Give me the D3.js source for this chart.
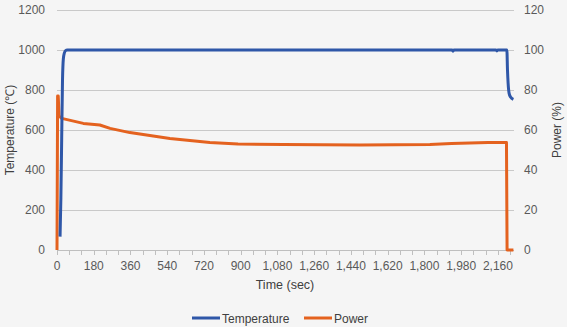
<!DOCTYPE html>
<html>
<head>
<meta charset="utf-8">
<script src="https://cdn.jsdelivr.net/npm/d3@7"></script>
<style>
  html, body { margin: 0; padding: 0; background: #f5f5f5; }
  svg { display: block; font-family: "Liberation Sans", Arial, sans-serif; }
</style>
</head>
<body>
<svg id="chart" width="567" height="327"></svg>
<script>
// Furnace run: temperature (left axis) and heater power (right axis) over time
const tempTime  = [15, 19, 23, 27, 31, 36, 42, 50, 1935, 1940, 1945, 2150, 2155, 2160, 2204, 2207, 2210, 2215, 2222, 2236];
const tempValue = [67, 260, 560, 850, 955, 985, 997, 1000, 1000, 994, 1000, 1000, 995, 1000, 1000, 900, 835, 783, 765, 753];

const powerTime  = [0, 3, 6, 10, 23, 129, 210, 260, 357, 455, 553, 651, 749, 887, 1108, 1484, 1827, 1933, 2111, 2202, 2205, 2236];
const powerValue = [0, 77, 77, 67, 65.8, 63.3, 62.5, 60.8, 58.7, 57.2, 55.8, 54.7, 53.8, 53, 52.7, 52.5, 52.7, 53.3, 53.8, 53.8, 0, 0];

const tempTicks  = [0, 200, 400, 600, 800, 1000, 1200];
const powerTicks = [0, 20, 40, 60, 80, 100, 120];
const timeLabels = d3.range(0, 2161, 180);
const timeMinor  = d3.range(0, 2221, 60);

const seriesNames  = ["Temperature", "Power"];
const seriesColors = ["#2f57a8", "#e4621f"];

const svg = d3.select("#chart");
const m = { left: 57, right: 513, top: 10, bottom: 250 };

const x  = d3.scaleLinear().domain([0, 2234]).range([m.left, m.right]);
const yT = d3.scaleLinear().domain([0, 1200]).range([m.bottom, m.top]);
const yP = d3.scaleLinear().domain([0, 120]).range([m.bottom, m.top]);

// horizontal gridlines
svg.append("g").selectAll("line").data(tempTicks.slice(1)).join("line")
  .attr("x1", m.left).attr("x2", m.right + 1)
  .attr("y1", d => yT(d) + 0.5).attr("y2", d => yT(d) + 0.5)
  .attr("stroke", "#c9c9c9").attr("stroke-width", 1);

// bottom axis line and tick marks
svg.append("line")
  .attr("x1", m.left).attr("x2", m.right + 1)
  .attr("y1", m.bottom + 0.5).attr("y2", m.bottom + 0.5)
  .attr("stroke", "#bfbfbf");
svg.append("g").selectAll("line").data(timeMinor).join("line")
  .attr("x1", d => Math.round(x(d)) + 0.5).attr("x2", d => Math.round(x(d)) + 0.5)
  .attr("y1", m.bottom).attr("y2", m.bottom + 5)
  .attr("stroke", "#bfbfbf");

const fmt = d3.format(",");
const labelColor = "#595959";

// x tick labels
svg.append("g").selectAll("text").data(timeLabels).join("text")
  .attr("x", d => x(d)).attr("y", 270)
  .attr("text-anchor", "middle")
  .attr("font-size", 12).attr("fill", labelColor)
  .text(d => fmt(d));

// left tick labels
svg.append("g").selectAll("text").data(tempTicks).join("text")
  .attr("x", 45).attr("y", d => yT(d) + 4)
  .attr("text-anchor", "end")
  .attr("font-size", 12).attr("fill", labelColor)
  .text(d => d);

// right tick labels
svg.append("g").selectAll("text").data(powerTicks).join("text")
  .attr("x", 524).attr("y", d => yP(d) + 4)
  .attr("text-anchor", "start")
  .attr("font-size", 12).attr("fill", labelColor)
  .text(d => d);

// axis titles
svg.append("text")
  .attr("transform", `translate(14,${(m.top + m.bottom) / 2}) rotate(-90)`)
  .attr("text-anchor", "middle").attr("font-size", 12).attr("fill", "#404040")
  .text("Temperature (℃)");
svg.append("text")
  .attr("transform", `translate(561,${(m.top + m.bottom) / 2}) rotate(-90)`)
  .attr("text-anchor", "middle").attr("font-size", 12).attr("fill", "#404040")
  .text("Power (%)");
svg.append("text")
  .attr("x", 285).attr("y", 289)
  .attr("text-anchor", "middle").attr("font-size", 12.5).attr("fill", "#404040")
  .text("Time (sec)");

// series lines
const tempLine = d3.line()
  .x((d, i) => x(tempTime[i])).y(d => yT(d))
  .curve(d3.curveMonotoneX);
const powerLine = d3.line()
  .x((d, i) => x(powerTime[i])).y(d => yP(d));

svg.append("path").datum(powerValue)
  .attr("d", powerLine).attr("fill", "none")
  .attr("stroke", seriesColors[1]).attr("stroke-width", 3)
  .attr("stroke-linejoin", "round");
svg.append("path").datum(tempValue)
  .attr("d", tempLine).attr("fill", "none")
  .attr("stroke", seriesColors[0]).attr("stroke-width", 3)
  .attr("stroke-linejoin", "round");

// legend
const legendX = [192, 304];
const lg = svg.append("g").selectAll("g").data(seriesNames).join("g")
  .attr("transform", (d, i) => `translate(${legendX[i]},318)`);
lg.append("line").attr("x1", 0).attr("x2", 28).attr("y1", 0).attr("y2", 0)
  .attr("stroke", (d, i) => seriesColors[i]).attr("stroke-width", 3);
lg.append("text").attr("x", 30).attr("y", 4.5)
  .attr("font-size", 12).attr("fill", "#404040")
  .text(d => d);
</script>
</body>
</html>
